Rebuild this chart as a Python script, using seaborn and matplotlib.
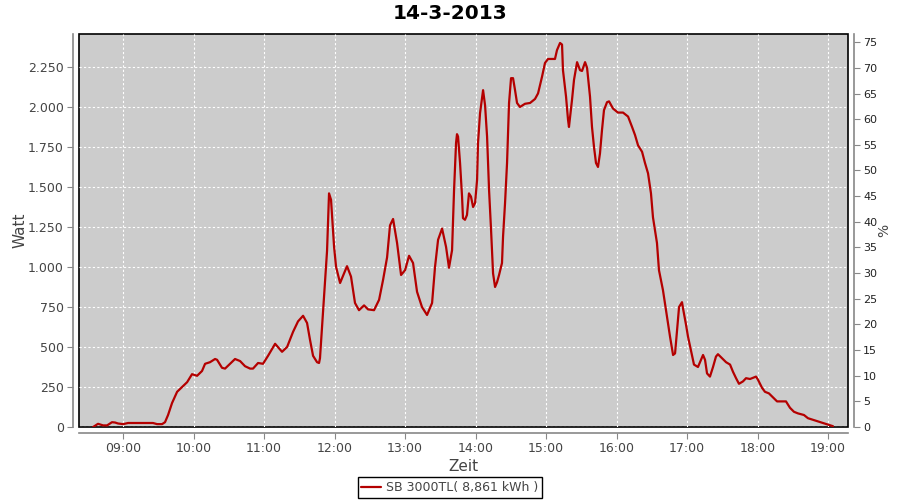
import matplotlib
matplotlib.use("Agg")
import matplotlib.pyplot as plt
from matplotlib.ticker import FuncFormatter
import seaborn as sns

# minutes since midnight
minutes = [514.5, 518.7, 523.0, 526.4, 530.6, 533.2, 535.7, 540.0, 544.3, 565.5,
           568.9, 573.2, 575.7, 578.3, 581.7, 586.0, 590.2, 594.5, 598.7, 603.0,
           607.2, 609.8, 614.0, 618.3, 620.0, 624.2, 626.8, 631.1, 635.3, 639.6,
           643.8, 648.1, 650.6, 654.9, 659.1, 663.4, 669.4, 675.3, 679.6, 684.7,
           688.9, 693.2, 696.6, 699.1, 701.7, 705.1, 706.8, 707.6, 710.2, 713.6,
           715.3, 717.0, 719.6, 721.3, 724.7, 730.6, 734.0, 737.4, 740.8, 745.1,
           748.5, 753.6, 757.9, 761.3, 764.7, 767.2, 769.8, 773.2, 776.6, 780.0,
           783.4, 786.8, 790.2, 794.4, 798.7, 803.0, 805.5, 808.1, 811.5, 814.9,
           817.4, 820.0, 821.7, 823.4, 824.2, 825.1, 826.8, 828.5, 829.3, 831.0,
           832.7, 834.4, 836.1, 837.9, 839.6, 841.3, 842.1, 843.8, 846.4, 848.1,
           849.8, 851.5, 853.2, 854.9, 856.6, 858.3, 860.0, 862.5, 863.4, 865.1,
           866.8, 868.5, 870.2, 871.9, 873.6, 875.3, 877.8, 882.1, 886.4, 890.6,
           893.2, 896.6, 899.1, 901.7, 907.6, 909.3, 911.9, 913.6, 914.4, 917.0,
           918.7, 919.5, 922.1, 923.8, 926.4, 928.9, 930.6, 933.2, 934.9, 937.4,
           939.1, 940.8, 942.5, 944.2, 945.9, 947.6, 949.3, 951.9, 953.6, 957.0,
           961.2, 965.5, 969.8, 973.2, 975.7, 978.3, 981.7, 984.2, 986.8, 989.3,
           991.0, 994.4, 996.1, 999.5, 1002.9, 1005.5, 1008.1, 1009.8, 1011.5, 1013.2,
           1015.7, 1016.6, 1019.1, 1020.8, 1024.2, 1025.9, 1029.3, 1031.9, 1033.6, 1035.3,
           1037.0, 1039.5, 1042.1, 1044.6, 1046.3, 1049.7, 1053.2, 1056.6, 1059.1, 1061.7,
           1064.2, 1067.6, 1070.2, 1073.6, 1078.7, 1080.4, 1083.8, 1086.3, 1089.7, 1093.2,
           1096.6, 1100.8, 1104.2, 1107.6, 1111.0, 1114.4, 1119.5, 1122.9, 1127.2, 1131.4,
           1135.7, 1140.0, 1144.2]

watt = [0, 20, 10, 10, 30, 28, 22, 18, 25, 25,
        18, 18, 30, 75, 150, 220, 250, 280, 330, 320,
        350, 395, 405, 425, 420, 370, 365, 395, 425, 412,
        380, 365, 365, 400, 395, 445, 520, 470, 500, 595,
        660, 695, 650, 545, 445, 405, 400, 430, 720, 1100,
        1460, 1420, 1125, 1000, 900, 1005, 940, 775, 730, 760,
        735, 730, 795, 920, 1060, 1260, 1300, 1150, 950, 980,
        1070, 1025, 845, 750, 700, 775, 1000, 1170, 1240, 1125,
        995, 1105, 1480, 1775, 1830, 1815, 1650, 1440, 1305, 1295,
        1325, 1460, 1440, 1375, 1400, 1545, 1775, 1960, 2105, 2010,
        1815, 1480, 1230, 960, 875, 905, 950, 1025, 1190, 1400,
        1650, 2025, 2180, 2180, 2105, 2025, 2000, 2020, 2025, 2050,
        2085, 2190, 2275, 2300, 2300, 2355, 2400, 2390, 2230, 2065,
        1920, 1875, 2045, 2170, 2280, 2230, 2225, 2280, 2245, 2065,
        1875, 1750, 1650, 1625, 1710, 1855, 1980, 2030, 2035, 1990,
        1965, 1965, 1940, 1875, 1825, 1760, 1720, 1650, 1585, 1460,
        1310, 1150, 980, 855, 690, 565, 450, 460, 605, 750,
        780, 740, 640, 565, 450, 390, 375, 420, 450, 420,
        335, 315, 375, 440, 455, 430, 405, 390, 345, 305,
        270, 285, 305, 300, 315, 295, 245, 220, 210, 185,
        160, 160, 160, 120, 95, 85, 75, 55, 45, 35,
        25, 15, 5]

hour_ticks = list(range(9, 20))
watt_ticks = list(range(0, 2251, 250))
pct_ticks = list(range(0, 76, 5))

title = "14-3-2013"
series_label = "SB 3000TL( 8,861 kWh )"

LINE = "#b40000"
AXIS_GREY = "#888888"
TEXT = "#444444"

sns.set_style("white")
plt.rcParams["font.family"] = ["DejaVu Sans"]

fig = plt.figure(figsize=(9, 5), dpi=100)
ax = fig.add_axes([79 / 900, 1 - 427 / 500, (848 - 79) / 900, (427 - 34) / 500])
ax.set_facecolor("#cccccc")
ax.patch.set_edgecolor("black")
ax.patch.set_linewidth(1.2)

hours = [m / 60 for m in minutes]
sns.lineplot(x=hours, y=watt, ax=ax, color=LINE, lw=1.6, label=series_label,
             legend=False, sort=False)

ax.set_xlim(8.375, 19.283)
ax.set_ylim(0, 2456)
ax.set_xticks(hour_ticks)
ax.xaxis.set_major_formatter(FuncFormatter(lambda v, p: f"{int(round(v)):02d}:00"))
ax.set_yticks(watt_ticks)
ax.yaxis.set_major_formatter(FuncFormatter(lambda v, p: f"{v:,.0f}".replace(",", ".")))
ax.grid(True, color="white", linestyle=(0, (2, 2)), linewidth=0.8)
ax.set_axisbelow(True)

for side in ["top", "right"]:
    ax.spines[side].set_visible(False)
for side in ["left", "bottom"]:
    ax.spines[side].set_position(("outward", 4))
    ax.spines[side].set_color(AXIS_GREY)
    ax.spines[side].set_linewidth(1.2)
ax.tick_params(axis="both", direction="out", length=4, width=0.8, color=AXIS_GREY,
               labelcolor=TEXT, labelsize=9, bottom=True, left=True, pad=3)
ax.set_xlabel("Zeit", fontsize=11, color=TEXT, labelpad=3, fontweight="medium")
ax.set_ylabel("Watt", fontsize=11, color=TEXT, labelpad=0, fontweight="medium")

ax2 = ax.twinx()
ax2.set_ylim(0, 76.6)
ax2.set_yticks(pct_ticks)
for side in ["top", "left", "bottom"]:
    ax2.spines[side].set_visible(False)
ax2.spines["right"].set_position(("outward", 4))
ax2.spines["right"].set_color(AXIS_GREY)
ax2.spines["right"].set_linewidth(1.2)
ax2.tick_params(axis="y", direction="out", length=4, width=0.8, color=AXIS_GREY,
                labelcolor="#222222", labelsize=8, right=True, pad=3)
ax2.set_ylabel("%", fontsize=10, color=TEXT, labelpad=0)

fig.suptitle(title, fontsize=14.5, fontweight="bold", color="black", y=0.992)

handles, labels = ax.get_legend_handles_labels()
leg = fig.legend(handles, labels, loc="center", bbox_to_anchor=(0.5, 0.025),
                 fancybox=False, edgecolor="black", framealpha=1, fontsize=9,
                 handlelength=1.6, handletextpad=0.4, borderpad=0.3)
leg.get_frame().set_linewidth(1.0)
for t in leg.get_texts():
    t.set_color(TEXT)

fig.savefig("out.png", dpi=100)
